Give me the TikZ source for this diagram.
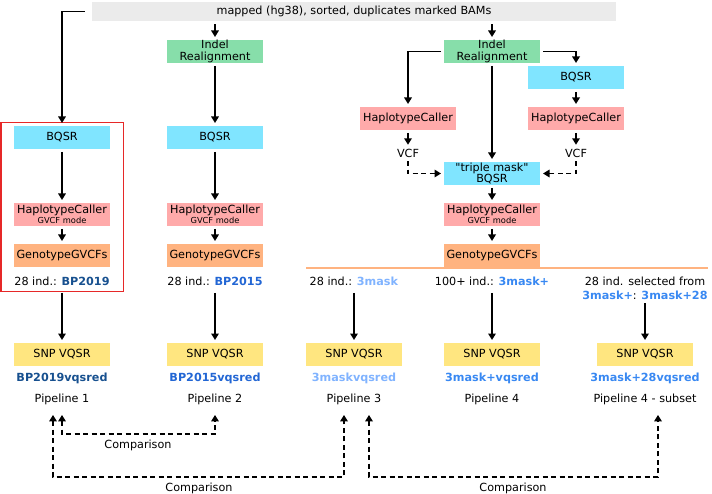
\documentclass[tikz,border=0pt]{standalone}
\usepackage{fontspec}
\setmainfont{DejaVu Sans}
\usepackage{tikz}
\usetikzlibrary{positioning}
\usetikzlibrary{arrows.meta}

\definecolor{bargray}{HTML}{EBEBEB}
\definecolor{realgreen}{HTML}{87DEAA}
\definecolor{bqsrcyan}{HTML}{80E5FF}
\definecolor{callpink}{HTML}{FFAAAA}
\definecolor{genoorange}{HTML}{FFB380}
\definecolor{vqsryellow}{HTML}{FFE680}
\definecolor{frame}{HTML}{E62828}
\definecolor{bpnineteen}{HTML}{17508F}
\definecolor{bpfifteen}{HTML}{2266D4}
\definecolor{maskthree}{HTML}{80B3FF}
\definecolor{maskplus}{HTML}{3888F2}

\newcommand{\gvcfsmall}{\fontsize{8.3}{9.5}\selectfont}

\begin{document}
\begin{tikzpicture}[x=1pt, y=-1pt,
        every node/.style={font=\fontsize{11.2}{11.3}\selectfont},
        barnode/.style={rectangle, fill=bargray, minimum width=524pt, minimum height=19pt, inner sep=0pt},
        stepbox/.style={rectangle, minimum width=96pt, minimum height=23pt, inner sep=0pt, outer sep=3pt, align=center},
        realnode/.style={stepbox, fill=realgreen},
        bqsrnode/.style={stepbox, fill=bqsrcyan},
        callnode/.style={stepbox, fill=callpink},
        genonode/.style={stepbox, fill=genoorange},
        vqsrnode/.style={stepbox, fill=vqsryellow},
        setnode/.style={inner sep=0pt, outer sep=7.5pt, align=center},
        vcfnode/.style={inner sep=0pt, outer sep=4pt},
        pipenode/.style={inner sep=0pt, outer sep=10.5pt},
        arr/.style={->, >={Triangle[length=6.5pt, width=7.5pt]}, line width=1.8pt},
        dsh/.style={arr, dash pattern=on 5pt off 3.5pt},
        cmp/.style={dsh, <->},
        ]
        \useasboundingbox (0,0) rectangle (712,494);

        %Nodes
        \node[barnode]  (bam)   at (354,11.5)    {mapped (hg38), sorted, duplicates marked BAMs};
        \node[realnode] (ir2)   at (215,51.5)    {Indel\\Realignment};
        \node[realnode] (ir4)   at (492,51.5)    {Indel\\Realignment};

        \node[bqsrnode] (bqsr1) at (62,137.5)    {BQSR};
        \node[bqsrnode] (bqsr2) at (215,137.5)   {BQSR};
        \node[bqsrnode] (bqsrR) at (576,77.5)    {BQSR};

        \node[callnode] (hcL)   at (408,118.5)   {HaplotypeCaller};
        \node[callnode] (hcR)   at (576,118.5)   {HaplotypeCaller};
        \node[vcfnode]  (vcfL)  at (408,153)     {VCF};
        \node[vcfnode]  (vcfR)  at (576,153)     {VCF};
        \node[bqsrnode] (tm)    at (492,173.5)   {\textquotedbl triple mask\textquotedbl\\BQSR};

        \node[callnode] (hc1)   at (62,214.5)    {HaplotypeCaller\\[-1.8pt]\gvcfsmall GVCF mode};
        \node[callnode] (hc2)   at (215,214.5)   {HaplotypeCaller\\[-1.8pt]\gvcfsmall GVCF mode};
        \node[callnode] (hc4)   at (492,214.5)   {HaplotypeCaller\\[-1.8pt]\gvcfsmall GVCF mode};

        \node[genonode] (gt1)   at (62,255.5)    {GenotypeGVCFs};
        \node[genonode] (gt2)   at (215,255.5)   {GenotypeGVCFs};
        \node[genonode] (gt4)   at (492,255.5)   {GenotypeGVCFs};

        \node[setnode]  (lab1)  at (62,281)      {28 ind.: \textcolor{bpnineteen}{\textbf{BP2019}}};
        \node[setnode]  (lab2)  at (215,281)     {28 ind.: \textcolor{bpfifteen}{\textbf{BP2015}}};
        \node[setnode]  (lab3)  at (354,281)     {28 ind.: \textcolor{maskthree}{\textbf{3mask}}};
        \node[setnode]  (lab4)  at (492,281)     {100+ ind.: \textcolor{maskplus}{\textbf{3mask+}}};
        \node[setnode, outer sep=4pt, font=\fontsize{11.2}{14}\selectfont]
                        (lab5)  at (645,288)     {28 ind. selected from\\\textcolor{maskplus}{\textbf{3mask+}}: \textcolor{maskplus}{\textbf{3mask+28}}};

        \node[vqsrnode] (vq1)   at (62,354.5)    {SNP VQSR};
        \node[vqsrnode] (vq2)   at (215,354.5)   {SNP VQSR};
        \node[vqsrnode] (vq3)   at (354,354.5)   {SNP VQSR};
        \node[vqsrnode] (vq4)   at (492,354.5)   {SNP VQSR};
        \node[vqsrnode] (vq5)   at (645,354.5)   {SNP VQSR};

        \node[setnode]  (vr1)   at (62,378.5)    {\textcolor{bpnineteen}{\textbf{BP2019vqsred}}};
        \node[setnode]  (vr2)   at (215,378.5)   {\textcolor{bpfifteen}{\textbf{BP2015vqsred}}};
        \node[setnode]  (vr3)   at (354,378.5)   {\textcolor{maskthree}{\textbf{3maskvqsred}}};
        \node[setnode]  (vr4)   at (492,378.5)   {\textcolor{maskplus}{\textbf{3mask+vqsred}}};
        \node[setnode]  (vr5)   at (645,378.5)   {\textcolor{maskplus}{\textbf{3mask+28vqsred}}};

        \node[pipenode] (p1)    at (62,399)      {Pipeline 1};
        \node[pipenode] (p2)    at (215,399)     {Pipeline 2};
        \node[pipenode] (p3)    at (354,399)     {Pipeline 3};
        \node[pipenode] (p4)    at (492,399)     {Pipeline 4};
        \node[pipenode] (p5)    at (645,399)     {Pipeline 4 - subset};

        \coordinate (cmpA) at (138,434);
        \coordinate (cmpB) at (199,477);
        \coordinate (cmpC) at (513,477);
        \node[inner sep=0pt] (cmpAtxt) at (138,445) {Comparison};
        \node[inner sep=0pt] (cmpBtxt) at (199,488) {Comparison};
        \node[inner sep=0pt] (cmpCtxt) at (513,488) {Comparison};

        %Frame and rule
        \draw[frame, line width=1.5pt] (0.75,122.5) rectangle (123.5,291.5);
        \draw[genoorange, line width=2.5pt] (306,268) -- (708,268);

        %Lines
        \draw[arr, shorten <=7pt] (bam.west) -| (bqsr1.north);
        \draw[arr, shorten <=3pt] (bam.south -| ir2.north) -- (ir2.north);
        \draw[arr, shorten <=3pt] (bam.south -| ir4.north) -- (ir4.north);

        \path[arr] (ir2) edge (bqsr2);
        \path[arr] (bqsr1) edge (hc1);
        \path[arr] (bqsr2) edge (hc2);
        \path[arr] (hc1) edge (gt1);
        \path[arr] (hc2) edge (gt2);

        \draw[arr] (ir4.west) -| (hcL.north);
        \draw[arr] (ir4.east) -| (bqsrR.north);
        \path[arr] (ir4) edge (tm);
        \path[arr] (bqsrR) edge (hcR);
        \path[arr] (hcL) edge (vcfL);
        \path[arr] (hcR) edge (vcfR);
        \draw[dsh] (vcfL.south) |- (tm.west);
        \draw[dsh] (vcfR.south) |- (tm.east);
        \path[arr] (tm) edge (hc4);
        \path[arr] (hc4) edge (gt4);

        \path[arr] (lab1) edge (vq1);
        \path[arr] (lab2) edge (vq2);
        \path[arr] (lab3) edge (vq3);
        \path[arr] (lab4) edge (vq4);
        \path[arr] (lab5) edge (vq5);

        \draw[cmp] (p1.south) |- (cmpA) -| (p2.south);
        \draw[cmp] ([xshift=-9pt]p1.south) |- (cmpB) -| ([xshift=-10pt]p3.south);
        \draw[cmp] ([xshift=15pt]p3.south) |- (cmpC) -| ([xshift=13pt]p5.south);
    \end{tikzpicture}
\end{document}
